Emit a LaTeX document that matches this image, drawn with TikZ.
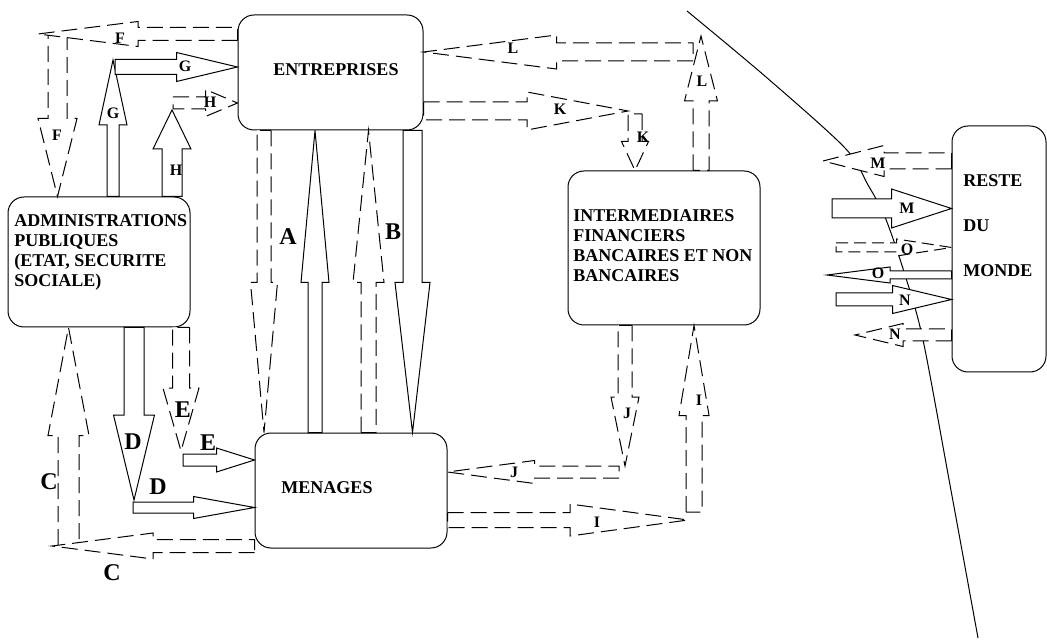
\documentclass[tikz,border=0pt]{standalone}
\usepackage{fontspec}
\setmainfont{Liberation Serif}[BoldFont={Liberation Serif Bold}]
\usetikzlibrary{calc}
\tikzset{
  % rounded box of a sector
  BX/.style={rectangle,rounded corners=8pt,draw,line width=0.5pt,inner sep=0pt},
  % text set in the boxes
  TX/.style={font=\fontsize{9}{10}\selectfont\bfseries,align=left,inner sep=0pt},
  % small and large flow letters
  LS/.style={font=\fontsize{8}{9}\selectfont\bfseries,inner sep=0pt},
  LL/.style={font=\fontsize{12}{13}\selectfont\bfseries,inner sep=0pt},
  % hollow flow arrows, solid and dashed
  Flx/.style={draw,fill=white,line width=0.5pt},
  DFlx/.style={Flx,dash pattern=on 8pt off 3.5pt},
}
% hollow arrow: [style]{tail}{tip}{half shaft}{half head}{head length}, sizes in px
\newcommand{\flux}[6][Flx]{%
  \pgfmathsetlengthmacro{\fxs}{#4*0.5pt}%
  \pgfmathsetlengthmacro{\fxh}{#5*0.5pt}%
  \pgfmathsetlengthmacro{\fxl}{#6*0.5pt}%
  \coordinate (fx-a) at (#2);
  \coordinate (fx-b) at (#3);
  \coordinate (fx-p) at ($(fx-b)!\fxl!(fx-a)$);
  \path[#1] ($(fx-a)!\fxs!90:(fx-b)$) -- ($(fx-p)!\fxs!90:(fx-b)$)
    -- ($(fx-p)!\fxh!90:(fx-b)$) -- (fx-b) -- ($(fx-p)!\fxh!-90:(fx-b)$)
    -- ($(fx-p)!\fxs!-90:(fx-b)$) -- ($(fx-a)!\fxs!-90:(fx-b)$) -- cycle;
}

\begin{document}
\begin{tikzpicture}[x=0.5pt,y=-0.5pt]
  \useasboundingbox (0,0) rectangle (1047,640);
  % sectors
  \node[BX,minimum width=92.5pt,minimum height=57.5pt] (ent) at (330.5,72.5) {};
  \node[BX,minimum width=91pt,minimum height=65pt] (adm) at (99,262) {};
  \node[BX,minimum width=96pt,minimum height=57.5pt] (men) at (351,490.5) {};
  \node[BX,minimum width=96pt,minimum height=77pt] (int) at (664,248) {};
  \node[BX,minimum width=47pt,minimum height=123pt] (rdm) at (999,249) {};
  \node[TX] (entT) at (336,70) {ENTREPRISES};
  \node[TX,anchor=north west] (admT) at (14,214)
       {ADMINISTRATIONS\\PUBLIQUES\\(ETAT, SECURITE\\SOCIALE)};
  \node[TX] (menT) at (327,488) {MENAGES};
  \node[TX,anchor=north west] (intT) at (573,209)
       {INTERMEDIAIRES\\FINANCIERS\\BANCAIRES ET NON\\BANCAIRES};
  \node[TX,anchor=north west,font=\fontsize{9}{22.5}\selectfont\bfseries] (rdmT)
       at (963,174) {RESTE\\DU\\MONDE};

  % frontier
  \draw[line width=0.5pt] plot[smooth,tension=0.5] coordinates
       {(687,11) (766,77) (845,148) (868,185) (885,217) (905,275)
        (923,340) (950,485) (978,638)};

  % F and G and H
  \coordinate (fE) at (38,34);
  \coordinate (fV) at (57.5,34);
  \flux[DFlx]{fV}{fV |- adm.north}{9.5}{19.5}{78}
  \flux[DFlx]{ent.west |- fE}{fE}{6.5}{12.5}{100}
  \coordinate (gV) at (113,60);
  \coordinate (gH) at (115,67);
  \flux{gV |- adm.north}{gV}{6}{14}{65}
  \flux{gH}{ent.west |- gH}{7.5}{14.5}{61}
  \coordinate (hV) at (172,110);
  \coordinate (hH) at (173,103);
  \flux{hV |- adm.north}{hV}{10}{19}{39}
  \flux[DFlx]{hH}{ent.west |- hH}{6}{13.5}{32}

  % L and K
  \coordinate (lV) at (701,36);
  \coordinate (lH) at (693,52);
  \flux[DFlx]{lV |- int.north}{lV}{8}{16.5}{65}
  \flux[DFlx]{lH}{ent.east |- lH}{9}{17}{133}
  \coordinate (kH) at (628,111);
  \coordinate (kV) at (635,114);
  \flux[DFlx]{kV}{kV |- int.north}{7}{13.5}{29}
  \flux[DFlx]{ent.east |- kH}{kH}{9}{19}{101}

  % A and B
  \coordinate (xa) at (264,300);
  \coordinate (xb) at (315,300);
  \coordinate (xc) at (368.5,300);
  \coordinate (xd) at (412.5,300);
  \flux[DFlx]{xa |- ent.south}{xa |- men.north}{7}{13.5}{150}
  \flux{xb |- men.north}{xb |- ent.south}{7}{14}{152}
  \flux[DFlx]{xc |- men.north}{xc |- ent.south}{7.5}{15.5}{152}
  \flux{xd |- ent.south}{xd |- men.north}{9.5}{17.5}{150}

  % C, D and E
  \coordinate (cE) at (52,546);
  \coordinate (cV) at (68.5,545);
  \flux[DFlx]{cV}{cV |- adm.south}{10.5}{20.5}{108}
  \flux[DFlx]{men.west |- cE}{cE}{6.5}{13}{101}
  \coordinate (dV) at (134,500);
  \coordinate (dH) at (133,507.5);
  \flux{dV |- adm.south}{dV}{10}{20.5}{85}
  \flux{dH}{men.west |- dH}{5.5}{11}{61}
  \coordinate (eV) at (181,451);
  \coordinate (eH) at (183,460);
  \flux[DFlx]{eV |- adm.south}{eV}{8.5}{18}{63}
  \flux{eH}{men.west |- eH}{6}{12}{38}

  % J and I
  \coordinate (jV) at (625,466);
  \coordinate (jH) at (619,472);
  \flux[DFlx]{jV |- int.south}{jV}{7}{14}{69}
  \flux[DFlx]{jH}{men.east |- jH}{6}{11.5}{87}
  \coordinate (iH) at (688,520);
  \coordinate (iV) at (694,512);
  \flux[DFlx]{men.east |- iH}{iH}{7.5}{16}{118}
  \flux[DFlx]{iV}{iV |- int.south}{8}{15}{90}

  % rest of the world
  \coordinate (m1) at (823,161);
  \coordinate (m2) at (832,208.5);
  \coordinate (o1) at (836,247.5);
  \coordinate (o2) at (827,275);
  \coordinate (n1) at (836,299.5);
  \coordinate (n2) at (855,335);
  \flux[DFlx]{rdm.west |- m1}{m1}{8}{15.5}{61}
  \flux{m2}{rdm.west |- m2}{9.5}{19.5}{60}
  \flux[DFlx,dash pattern=on 6pt off 3pt]{o1}{rdm.west |- o1}{4.5}{8.5}{55}
  \flux{rdm.west |- o2}{o2}{4}{8}{63}
  \flux{n1}{rdm.west |- n1}{6.5}{14}{59}
  \flux[DFlx]{rdm.west |- n2}{n2}{6}{11.5}{48}

  % flow letters
  \node[LS] (lF1) at (120,38) {F};
  \node[LS] (lF2) at (57,135) {F};
  \node[LS] (lG1) at (185,66) {G};
  \node[LS] (lG2) at (113,113) {G};
  \node[LS] (lH1) at (210,102) {H};
  \node[LS] (lH2) at (176,170) {H};
  \node[LS] (lL1) at (513,48) {L};
  \node[LS] (lL2) at (702,81) {L};
  \node[LS] (lK1) at (560,109) {K};
  \node[LS] (lK2) at (643,137) {K};
  \node[LL] (lA) at (288,237) {A};
  \node[LL] (lB) at (393,232) {B};
  \node[LL] (lC1) at (49,482) {C};
  \node[LL] (lC2) at (112,573) {C};
  \node[LL] (lD1) at (133,442) {D};
  \node[LL] (lD2) at (158,487) {D};
  \node[LL] (lE1) at (183,410) {E};
  \node[LL] (lE2) at (208,443) {E};
  \node[LS] (lJ1) at (627,413) {J};
  \node[LS] (lJ2) at (514,472) {J};
  \node[LS] (lI1) at (699,400) {I};
  \node[LS] (lI2) at (597,522) {I};
  \node[LS] (lM1) at (878,163) {M};
  \node[LS] (lM2) at (907,208) {M};
  \node[LS] (lO1) at (907,249) {O};
  \node[LS] (lO2) at (878,273) {O};
  \node[LS] (lN1) at (905,300) {N};
  \node[LS] (lN2) at (895,334) {N};
\end{tikzpicture}
\end{document}
